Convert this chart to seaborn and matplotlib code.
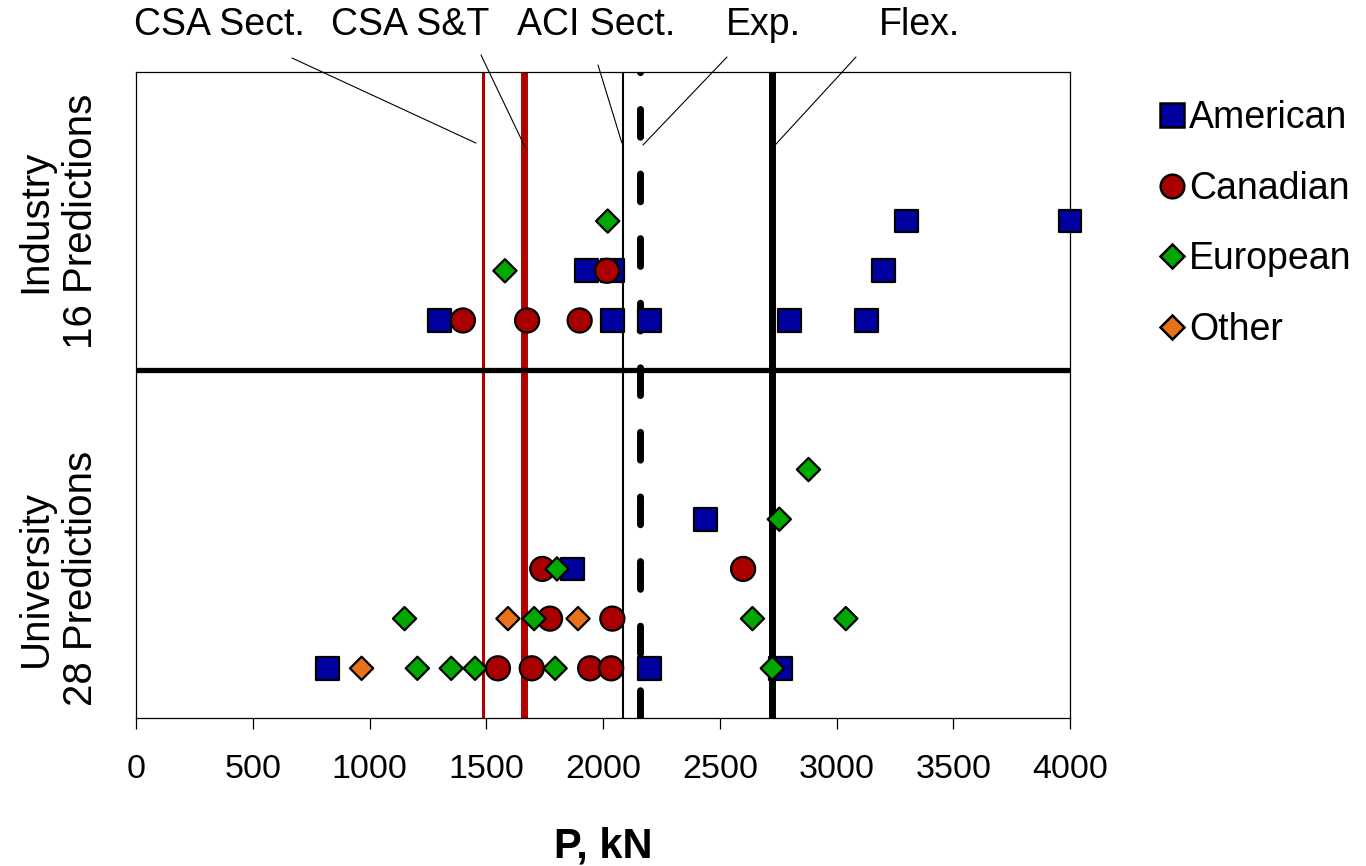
import matplotlib
matplotlib.use('Agg')
import matplotlib.pyplot as plt
from matplotlib.lines import Line2D
import pandas as pd
import seaborn as sns

# Predicted capacity P (kN); row 1-5 = university entries, 8-10 = industry entries
american_p = [3300, 4000, 1930, 2040, 3200, 1300, 2040, 2200, 2800, 3130,
              2440, 1870, 820, 2200, 2760]
american_row = [10, 10, 9, 9, 9, 8, 8, 8, 8, 8, 4, 3, 1, 1, 1]

canadian_p = [2017, 1400, 1675, 1900, 2600, 1740, 1773, 2040, 1550, 1695, 1945, 2035]
canadian_row = [9, 8, 8, 8, 3, 3, 2, 2, 1, 1, 1, 1]

european_p = [2020, 1580, 2880, 2755, 1803, 1150, 1705, 2640, 3040,
              1205, 1350, 1452, 1795, 2725]
european_row = [10, 9, 5, 4, 3, 2, 2, 2, 2, 1, 1, 1, 1, 1]

other_p = [1593, 1893, 966]
other_row = [2, 2, 1]

groups = ['American', 'Canadian', 'European', 'Other']
group_labels = ['Industry\n16 Predictions', 'University\n28 Predictions']
group_label_y = [10, 2.8]

# reference capacities (vertical lines)
ref_names = ['CSA Sect.', 'CSA S&T', 'ACI Sect.', 'Exp.', 'Flex.']
ref_p = [1485, 1660, 2085, 2160, 2725]

colors = {'American': '#0000A0', 'Canadian': '#A80000',
          'European': '#00A800', 'Other': '#E8721A'}
markers = {'American': 's', 'Canadian': 'o', 'European': 'D', 'Other': 'D'}
sizes = {'American': 270, 'Canadian': 300, 'European': 140, 'Other': 140}

df = pd.concat([
    pd.DataFrame({'P': american_p, 'row': american_row, 'origin': 'American'}),
    pd.DataFrame({'P': canadian_p, 'row': canadian_row, 'origin': 'Canadian'}),
    pd.DataFrame({'P': european_p, 'row': european_row, 'origin': 'European'}),
    pd.DataFrame({'P': other_p, 'row': other_row, 'origin': 'Other'}),
], ignore_index=True)

sns.set_style('ticks')
plt.rcParams['font.family'] = ['Liberation Sans', 'DejaVu Sans']
plt.rcParams['text.color'] = 'black'
plt.rcParams['axes.labelcolor'] = 'black'
plt.rcParams['xtick.color'] = 'black'

fig = plt.figure(figsize=(13.66, 8.66), dpi=100)
ax = fig.add_axes([136 / 1366, 1 - 718 / 866, 934 / 1366, 646 / 866])

# reference lines
line_styles = [
    dict(color='#B00000', lw=2.2),
    dict(color='#B00000', lw=5),
    dict(color='black', lw=1.5),
    dict(color='black', lw=5, linestyle=(0, (4, 5.3)), dash_capstyle='round'),
    dict(color='black', lw=5),
]
for p, st in zip(ref_p, line_styles):
    ax.axvline(p, zorder=2, **st)
ax.axhline(7, color='black', lw=3.8, zorder=2)

sns.scatterplot(data=df, x='P', y='row', hue='origin', style='origin', size='origin',
                hue_order=groups, palette=colors, markers=markers, sizes=sizes,
                edgecolor='black', linewidth=1.6, legend=False, zorder=3,
                clip_on=False, ax=ax)

ax.set_xlim(0, 4000)
ax.set_ylim(0, 13)
ax.set_xticks(range(0, 4001, 500))
ax.set_yticks([])
ax.set_ylabel('')
ax.set_xlabel('P, kN', fontsize=30, fontweight='bold', labelpad=30)
ax.tick_params(axis='x', direction='out', length=8, width=0.9, labelsize=24.5, pad=18)
for s in ax.spines.values():
    s.set_linewidth(0.9)
    s.set_color('black')

for lab, y in zip(group_labels, group_label_y):
    ax.text(-0.083, y, lab, transform=ax.get_yaxis_transform(), rotation=90,
            ha='center', va='center', fontsize=29, linespacing=1.25,
            multialignment='center')

# labels above the plot with leader lines
text_x = [219, 410, 596, 763, 920]
lead_start = [(292, 808), (481, 811), (598, 801), (727, 809), (856, 809)]
lead_end = [(1456, 11.57), (1666, 11.49), (2081, 11.57), (2171, 11.53), (2737, 11.53)]
for name, tx, st, en in zip(ref_names, text_x, lead_start, lead_end):
    fig.text(tx / 1366, 841 / 866, name, ha='center', va='center', fontsize=27)
    ax.annotate('', xy=en, xycoords='data', xytext=st, textcoords='figure pixels',
                arrowprops=dict(arrowstyle='-', color='black', lw=0.8,
                                shrinkA=0, shrinkB=0), annotation_clip=False)

handles = [Line2D([], [], linestyle='', marker=markers[g], markerfacecolor=colors[g],
                  markeredgecolor='black', markeredgewidth=1.8,
                  markersize=17 if g == 'American' else (17 if g == 'Canadian' else 12))
           for g in groups]
ax.legend(handles, groups, loc='upper left', bbox_to_anchor=(1160 / 1366, 0.884),
          bbox_transform=fig.transFigure, frameon=False, fontsize=27,
          handlelength=0.62, handletextpad=0.16, labelspacing=0.92,
          borderpad=0, borderaxespad=0)

fig.savefig('out.png', dpi=100)
